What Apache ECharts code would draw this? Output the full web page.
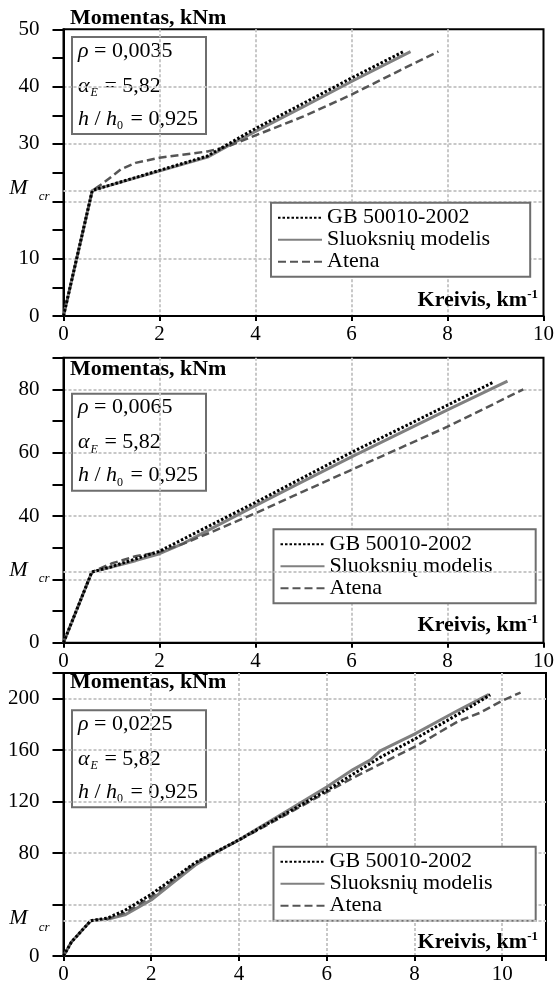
<!DOCTYPE html>
<html lang="lt">
<head>
    <meta charset="utf-8" />
    <title>Momentas - kreivis</title>
    <script src="https://cdn.jsdelivr.net/npm/echarts@6/dist/echarts.min.js"></script>
    <style>
        html, body { margin: 0; padding: 0; background: #fff; }
        #chart { width: 557px; height: 985px; }
    </style>
</head>
<body>
<div id="chart"></div>
<script>
// ---- duomenys ----
var seriesNames = ['GB 50010-2002', 'Sluoksnių modelis', 'Atena'];
var rhoLabels = ['0,0035', '0,0065', '0,0225'];
var alphaE = '5,82';
var hRatio = '0,925';
var mcrValues = [21.9, 22.3, 27.5];
var yMax = [50, 90, 220];
var yInterval = [10, 20, 40];
var yHiddenLabel = [20, 20, 40];
var xMax = [10, 10, 11];

// 1 grafikas, rho = 0,0035
var gb1 = [[0,0],[0.6,21.9],[3.0,27.9],[3.5,30.3],[4.0,32.7],[5.0,37.1],[6.0,41.5],[7.08,46.1]];
var sl1 = [[0,0],[0.6,21.9],[3.0,27.7],[3.5,30.0],[4.0,32.2],[5.0,36.5],[6.0,40.9],[7.23,46.1]];
var at1 = [[0,0],[0.6,21.9],[0.8,23.0],[1.2,25.6],[1.5,26.7],[2.0,27.6],[3.0,28.7],[3.4,29.5],[4.0,31.5],[5.0,34.8],[6.0,38.6],[7.0,42.8],[7.81,46.1]];

// 2 grafikas, rho = 0,0065
var gb2 = [[0,0],[0.59,22.3],[1.0,24.0],[2.0,28.9],[3.0,36.6],[4.0,44.3],[5.0,52.2],[6.0,60.1],[7.0,67.5],[8.0,75.0],[8.96,82.3]];
var sl2 = [[0,0],[0.59,22.3],[1.0,23.9],[1.5,25.9],[2.0,28.1],[2.5,31.4],[3.0,35.4],[4.0,43.3],[5.0,51.0],[6.0,58.7],[7.0,66.1],[8.0,73.5],[9.25,82.6]];
var at2 = [[0,0],[0.59,22.3],[1.0,25.0],[1.5,27.3],[2.0,28.6],[2.5,31.3],[3.0,34.4],[4.0,40.9],[5.0,47.8],[6.0,54.6],[7.0,61.4],[8.0,68.2],[9.58,80.0]];

// 3 grafikas, rho = 0,0225
var gb3 = [[0,0],[0.18,10.8],[0.62,27.4],[1.0,29.5],[1.4,35.5],[2.0,48.0],[3.0,72.5],[4.0,90.3],[5.0,109.5],[6.0,128.7],[7.22,154.4],[8.0,168.5],[9.0,188.0],[9.73,203.0]];
var sl3 = [[0,0],[0.18,10.8],[0.62,27.4],[1.0,28.5],[1.4,32.0],[2.0,43.5],[2.5,57.0],[3.0,70.5],[3.5,81.0],[4.0,90.3],[5.0,110.8],[6.0,131.3],[6.6,144.9],[7.0,152.5],[7.22,159.5],[8.0,172.5],[9.0,191.0],[9.70,203.5]];
var at3 = [[0,0],[0.18,10.8],[0.62,27.4],[1.0,28.8],[1.4,33.5],[2.0,46.0],[3.0,72.0],[4.0,90.0],[5.0,108.5],[6.0,127.4],[6.6,138.5],[7.22,149.2],[8.0,162.5],[9.0,182.5],[9.49,189.0],[10.0,198.5],[10.42,204.8]];

var panelData = [[gb1, sl1, at1], [gb2, sl2, at2], [gb3, sl3, at3]];

// ---- išdėstymas ----
var FONT = "'Liberation Serif', 'Times New Roman', serif";
var gridTops = [29.3, 357.7, 673];
var gridBottoms = [669, 342.3, 26];
var boxTops = [36, 392.7, 709.3];
var legendTops = [202.7, 529.3, 846.7];
var titleY = [18.5, 369, 682.5];
var kreivisY = [300, 625.5, 942.5];

var lineStyles = [
    { color: '#000', width: 3, type: [2.5, 2] },
    { color: '#808080', width: 3, type: 'solid' },
    { color: '#555', width: 2.5, type: [8, 4] }
];
var gridLine = { color: '#c8c8c8', width: 2, type: [3, 2] };

var grids = [], xAxes = [], yAxes = [], series = [], legends = [], graphics = [];

for (var p = 0; p < 3; p++) {
    grids.push({
        left: 63.5, right: 11, top: gridTops[p], bottom: gridBottoms[p],
        show: true, borderColor: '#000', borderWidth: 2, backgroundColor: 'transparent'
    });
    xAxes.push({
        type: 'value', gridIndex: p, min: 0, max: xMax[p], interval: 2,
        axisLine: { lineStyle: { color: '#000', width: 2 } },
        axisTick: { length: 5, lineStyle: { color: '#000', width: 2 } },
        axisLabel: {
            color: '#000', fontFamily: FONT, fontSize: 21, margin: 8,
            formatter: function (v) { return v % 2 === 0 ? String(v) : ''; }
        },
        splitLine: { show: true, showMinLine: false, showMaxLine: false, lineStyle: gridLine }
    });
    (function (hidden, step) {
        yAxes.push({
            type: 'value', gridIndex: p, min: 0, max: yMax[p], interval: step,
            axisLine: { onZero: false, lineStyle: { color: '#000', width: 2 } },
            axisTick: { length: 11, lineStyle: { color: '#000', width: 2 } },
            minorTick: { show: p < 2, splitNumber: 2, length: 11, lineStyle: { color: '#000', width: 2 } },
            axisLabel: {
                color: '#000', fontFamily: FONT, fontSize: 21, margin: 24,
                formatter: function (v) { return (v === hidden || v % step !== 0) ? '' : String(v); }
            },
            splitLine: { show: true, showMinLine: false, showMaxLine: false, lineStyle: gridLine }
        });
    })(yHiddenLabel[p], yInterval[p]);

    // piešimo tvarka: Sluoksnių, Atena, GB viršuje
    [1, 2, 0].forEach(function (k) {
        var s = {
            name: seriesNames[k], type: 'line', xAxisIndex: p, yAxisIndex: p,
            data: panelData[p][k], symbol: 'none', smooth: false, z: 3 + (k === 0 ? 2 : k === 2 ? 1 : 0),
            lineStyle: lineStyles[k], itemStyle: { color: lineStyles[k].color },
            animation: false
        };
        if (k === 1) {
            s.markLine = {
                silent: true, symbol: ['none', 'none'], animation: false,
                lineStyle: gridLine,
                label: {
                    position: 'start', distance: 14,
                    formatter: '{m|M}{s|cr}',
                    rich: {
                        m: { fontFamily: FONT, fontStyle: 'italic', fontSize: 22, color: '#000', padding: [0, 0, 4, 0] },
                        s: { fontFamily: FONT, fontStyle: 'italic', fontSize: 13, color: '#000', padding: [0, 0, 0, 11], verticalAlign: 'bottom' }
                    }
                },
                data: [{ yAxis: mcrValues[p] }]
            };
        }
        series.push(s);
    });

    legends.push({
        data: seriesNames, orient: 'vertical', left: p === 0 ? 271 : 273.5, top: legendTops[p],
        backgroundColor: '#fff', borderColor: '#6e6e6e', borderWidth: 2,
        padding: [4, p === 0 ? 40 : 43, 4, 6], itemGap: 0, itemWidth: 44, itemHeight: 14,
        itemStyle: { color: 'rgba(0,0,0,0)', borderWidth: 0, opacity: 0 },
        textStyle: { fontFamily: FONT, fontSize: 22, color: '#000', lineHeight: 22 },
        selectedMode: false
    });

    // parametrų langelis
    graphics.push({
        type: 'group', left: 71, top: boxTops[p], z: 10,
        children: [
            { type: 'rect', shape: { x: 0, y: 0, width: 134, height: 97 },
              style: { fill: '#fff', stroke: '#6e6e6e', lineWidth: 2 } },
            { type: 'text', x: 6, y: 14, style: {
                text: '{i|ρ} = ' + rhoLabels[p], verticalAlign: 'middle',
                font: '22px ' + FONT, fill: '#000',
                rich: { i: { fontFamily: FONT, fontStyle: 'italic', fontSize: 22 } } } },
            { type: 'text', x: 6, y: 49, style: {
                text: '{i|α}{sub|E} = ' + alphaE, verticalAlign: 'middle',
                font: '22px ' + FONT, fill: '#000', lineHeight: 26,
                rich: {
                    i: { fontFamily: FONT, fontStyle: 'italic', fontSize: 22, lineHeight: 26 },
                    sub: { fontFamily: FONT, fontStyle: 'italic', fontSize: 12, lineHeight: 12, verticalAlign: 'bottom', padding: [0, 1, 0, 1] }
                } } },
            { type: 'text', x: 6, y: 82, style: {
                text: '{i|h} / {i|h}{sub|0} = ' + hRatio, verticalAlign: 'middle',
                font: '22px ' + FONT, fill: '#000', lineHeight: 26,
                rich: {
                    i: { fontFamily: FONT, fontStyle: 'italic', fontSize: 22, lineHeight: 26 },
                    sub: { fontFamily: FONT, fontSize: 12, lineHeight: 12, verticalAlign: 'bottom', padding: [0, 2, 0, 0] }
                } } }
        ]
    });
    // ašių pavadinimai
    graphics.push({
        type: 'text', x: 70, y: titleY[p], z: 10,
        style: { text: 'Momentas, kNm', font: 'bold 22px ' + FONT, fill: '#000', verticalAlign: 'middle' }
    });
    graphics.push({
        type: 'text', x: 538, y: kreivisY[p], z: 10,
        style: {
            text: '{b|Kreivis, km}{sup|-1}', align: 'right', verticalAlign: 'middle',
            rich: {
                b: { fontFamily: FONT, fontWeight: 'bold', fontSize: 22, color: '#000', lineHeight: 24 },
                sup: { fontFamily: FONT, fontWeight: 'bold', fontSize: 13, color: '#000', verticalAlign: 'top', lineHeight: 13 }
            }
        }
    });
}

var chart = echarts.init(document.getElementById('chart'), null, { renderer: 'canvas' });
chart.setOption({
    backgroundColor: '#fff',
    animation: false,
    grid: grids,
    xAxis: xAxes,
    yAxis: yAxes,
    legend: legends,
    series: series,
    graphic: graphics
});
</script>
</body>
</html>
